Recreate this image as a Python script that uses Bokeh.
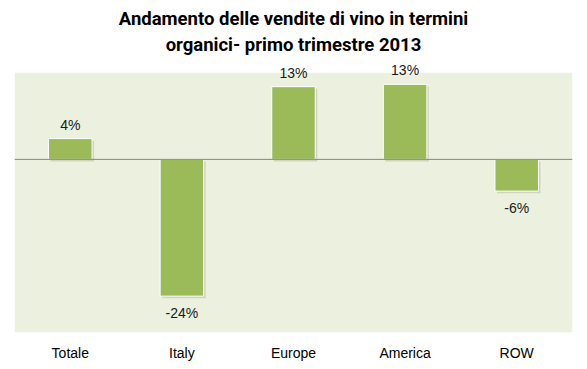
from bokeh.plotting import figure
from bokeh.models import ColumnDataSource, LabelSet, Span, Title, BoxAnnotation
from bokeh.core.properties import value
from bokeh.transform import dodge
from bokeh.embed import file_html
from bokeh.resources import INLINE

categories = ["Totale", "Italy", "Europe", "America", "ROW"]
values = [3.6, -23.7, 12.6, 13.0, -5.5]
labels = ["4%", "-24%", "13%", "13%", "-6%"]
title_lines = ["Andamento delle vendite di vino in termini", "organici- primo trimestre 2013"]
area_bottom, area_top = -30, 15

shadow_dy = 0.35
src = ColumnDataSource(dict(
    cat=categories,
    val=values,
    zero=[0] * len(values),
    lab=labels,
    stop=[max(v, 0) - shadow_dy for v in values],
    sbot=[min(v, 0) - shadow_dy for v in values],
    loff=[14 if v >= 0 else -17 for v in values],
))

p = figure(x_range=categories, y_range=(area_bottom, 18), width=587, height=369,
           output_backend="svg", toolbar_location=None,
           min_border_left=14, min_border_right=15, min_border_top=55, min_border_bottom=37)
p.background_fill_color = "white"
p.border_fill_color = "white"
p.outline_line_color = None
p.xgrid.visible = False
p.ygrid.visible = False
p.yaxis.visible = False

p.add_layout(BoxAnnotation(bottom=area_bottom, top=area_top, fill_color="#EBF1DE",
                           fill_alpha=1, line_color=None, level="underlay"))

p.title.text = title_lines[0]
p.title.align = "center"
p.title.text_font = "Roboto"
p.title.text_font_size = "18.5px"
p.title.text_font_style = "bold"
p.title.text_color = "#000000"
p.title.standoff = 3
t2 = Title(text=title_lines[1], align="center", text_font="Roboto", standoff=0,
           text_font_size="18.5px", text_font_style="bold", text_color="#000000")
p.add_layout(t2, "above")

p.xaxis.axis_line_color = None
p.xaxis.major_tick_line_color = None
p.xaxis.minor_tick_line_color = None
p.xaxis.major_tick_out = 0
p.xaxis.major_tick_in = 0
p.xaxis.major_label_text_font = "Liberation Sans"
p.xaxis.major_label_text_font_size = "14px"
p.xaxis.major_label_text_color = "#000000"
p.xaxis.major_label_standoff = 12

# shadow
p.vbar(x=dodge("cat", 0.018, range=p.x_range), top="stop", bottom="sbot", width=0.39,
       source=src, fill_color="#000000", fill_alpha=0.12, line_color=None)
p.vbar(x="cat", top="val", bottom="zero", width=0.39, source=src,
       fill_color="#9BBB59", line_color="#FFFFFF", line_width=1)

p.add_layout(Span(location=0, dimension="width", line_color="#868686", line_width=1))

ls = LabelSet(x="cat", y="val", text="lab", source=src, y_offset="loff",
              text_align="center", text_baseline="middle",
              text_font=value("Liberation Sans"), text_font_size=value("14px"),
              text_color=value("#1a1a1a"))
p.add_layout(ls)

open("out.html", "w").write(file_html(p, INLINE))
